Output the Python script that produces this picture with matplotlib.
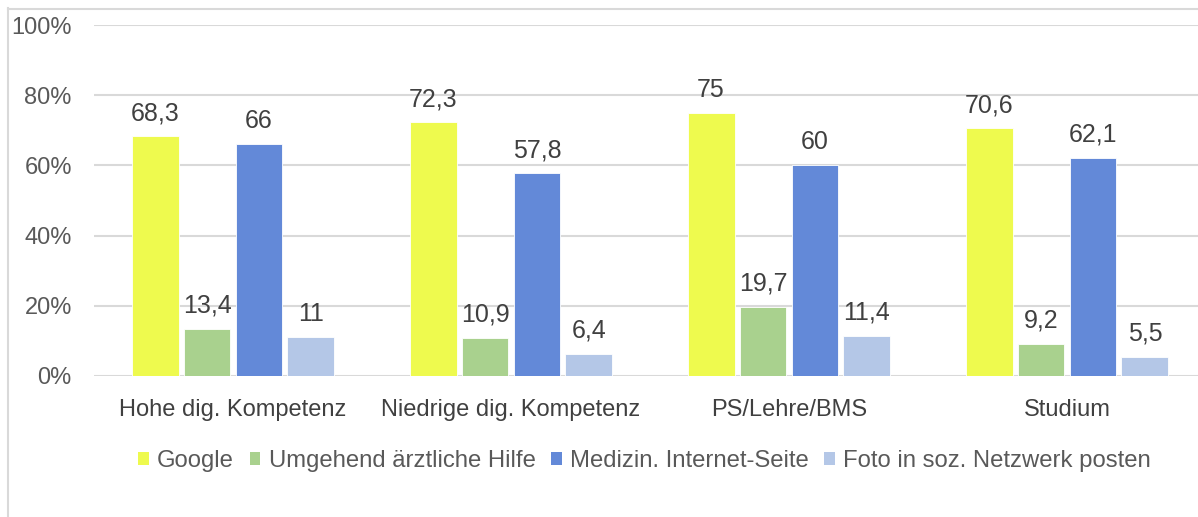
import matplotlib
matplotlib.use("Agg")
import matplotlib.pyplot as plt
import numpy as np
from matplotlib.lines import Line2D
from matplotlib.patches import Patch

categories = ["Hohe dig. Kompetenz", "Niedrige dig. Kompetenz", "PS/Lehre/BMS", "Studium"]
series_names = ["Google", "Umgehend ärztliche Hilfe", "Medizin. Internet-Seite", "Foto in soz. Netzwerk posten"]
google = [68.3, 72.3, 75, 70.6]
hilfe = [13.4, 10.9, 19.7, 9.2]
internet = [66, 57.8, 60, 62.1]
foto = [11, 6.4, 11.4, 5.5]
yticks = [0, 20, 40, 60, 80, 100]
ytick_labels = ["0%", "20%", "40%", "60%", "80%", "100%"]

colors = ["#EEFA4E", "#A9D18E", "#6389D8", "#B4C7E7"]
series = [google, hilfe, internet, foto]

plt.rcParams['font.family'] = ['Liberation Sans', 'DejaVu Sans']

W, H = 1198, 517
fig = plt.figure(figsize=(W / 100, H / 100), dpi=100)

# chart frame (cropped)
fig.add_artist(Line2D([7.5 / W, 7.5 / W], [0, 1 - 8 / H], transform=fig.transFigure, color="#D9D9D9", lw=1.5))
fig.add_artist(Line2D([7.5 / W, 1], [1 - 8.5 / H, 1 - 8.5 / H], transform=fig.transFigure, color="#D9D9D9", lw=1.5))

left, right = 94 / W, 1206 / W
bottom, top = 1 - 376 / H, 1 - 25 / H
ax = fig.add_axes([left, bottom, right - left, top - bottom])

x = np.arange(len(categories))
bw = 0.169
step = 0.187
offsets = (np.arange(4) - 1.5) * step
text_color = "#404040"
for i, (vals, c) in enumerate(zip(series, colors)):
    bars = ax.bar(x + offsets[i], vals, width=bw, color=c, edgecolor="white", linewidth=0.6, zorder=3)
    for b, v in zip(bars, vals):
        lab = f"{v:g}".replace(".", ",")
        ax.annotate(lab, (b.get_x() + b.get_width() / 2, v), xytext=(0, 8), textcoords="offset points",
                    ha="center", va="bottom", fontsize=18, color=text_color)

ax.set_xlim(-0.5, len(categories) - 0.5)
ax.set_ylim(0, 100)
ax.set_yticks(yticks)
ax.set_yticklabels(ytick_labels, fontsize=17, color="#595959")
ax.set_xticks(x)
ax.set_xticklabels(categories, fontsize=17, color="#404040")
ax.tick_params(axis="both", length=0)
ax.tick_params(axis="x", pad=16.5)
ax.tick_params(axis="y", pad=16)
ax.yaxis.grid(True, color="#D9D9D9", lw=1.5, zorder=0)
for s in ax.spines.values():
    s.set_visible(False)
ax.set_axisbelow(True)

handles = [Patch(facecolor=c, edgecolor="none") for c in colors]
fig.legend(handles, series_names, loc="center", bbox_to_anchor=(0.538, 1 - 461 / H), ncol=4, frameon=False,
           fontsize=17.2, handlelength=0.45, handleheight=0.45, handletextpad=0.34, columnspacing=0.65,
           labelcolor="#595959")

fig.savefig("out.png", dpi=100)
